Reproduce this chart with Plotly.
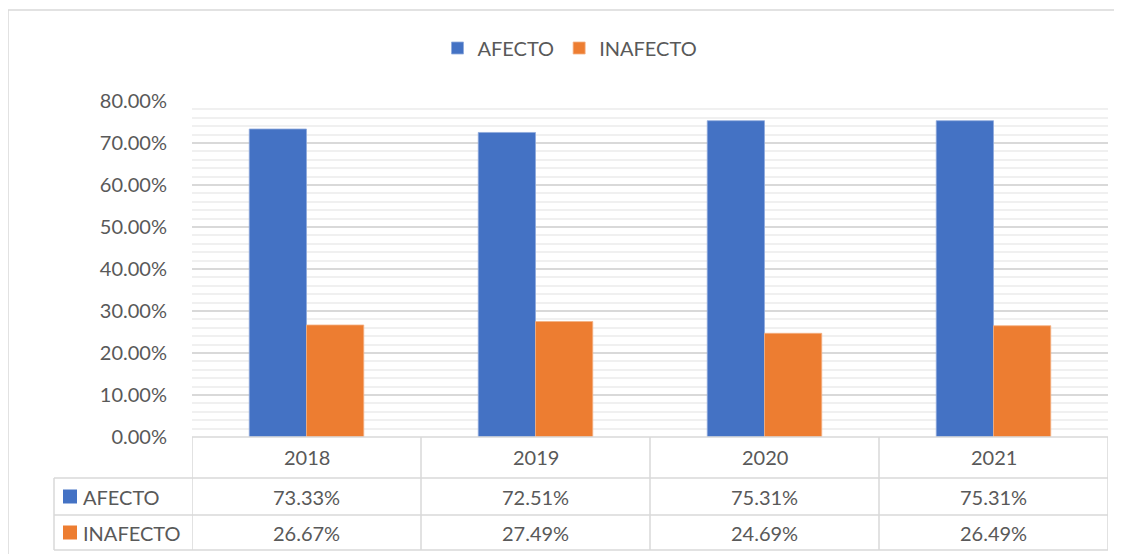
import plotly.graph_objects as go

# ---- data ----
years = ["2018", "2019", "2020", "2021"]
afecto = [0.7333, 0.7251, 0.7531, 0.7531]
inafecto = [0.2667, 0.2749, 0.2469, 0.2649]
afecto_labels = ["73.33%", "72.51%", "75.31%", "75.31%"]
inafecto_labels = ["26.67%", "27.49%", "24.69%", "26.49%"]
series_names = ["AFECTO", "INAFECTO"]

BLUE = "#4472C4"
ORANGE = "#ED7D31"
TXT = "#595959"
GRID = "#D9D9D9"
FONT = "Lato"
FS = 20

OFF = 8  # default page body margin
W, H = 1122 - OFF, 554 - OFF
L, R, T, B = 192, 1108, 101, 437  # plot area in page pixels


def px(xp):
    return (xp - L) / (R - L)


def py(yp):
    return (B - yp) / (B - T)


fig = go.Figure()
fig.add_trace(go.Bar(x=years, y=afecto, name=series_names[0],
                     marker=dict(color=BLUE, line=dict(color="#8FAADC", width=0.8))))
fig.add_trace(go.Bar(x=years, y=inafecto, name=series_names[1],
                     marker=dict(color=ORANGE, line=dict(color="#F4B183", width=0.8))))

shapes = []
annotations = []

# outer chart border
shapes.append(dict(type="rect", xref="paper", yref="paper",
                   x0=px(8), x1=px(1140), y0=py(575), y1=py(10),
                   line=dict(color="#D9D9D9", width=1.5), layer="below"))

# table geometry
row_edges = [B, 478, 515, 550]
tcol = "#D9D9D9"
left_x = px(54)
n = len(years)
shapes.append(dict(type="line", xref="x", yref="paper", x0=-0.5, x1=n - 0.5,
                   y0=py(row_edges[0]), y1=py(row_edges[0]), line=dict(color=tcol, width=1.5)))
for ye in row_edges[1:]:
    shapes.append(dict(type="line", xref="paper", yref="paper", x0=left_x, x1=1,
                       y0=py(ye), y1=py(ye), line=dict(color=tcol, width=1.5)))
for i in range(n + 1):
    shapes.append(dict(type="line", xref="x", yref="paper", x0=i - 0.5, x1=i - 0.5,
                       y0=py(row_edges[0]), y1=py(row_edges[-1]), line=dict(color=tcol, width=1.5)))
shapes.append(dict(type="line", xref="paper", yref="paper", x0=left_x, x1=left_x,
                   y0=py(row_edges[1]), y1=py(row_edges[-1]), line=dict(color=tcol, width=1.5)))


def mid(a, b):
    return py((a + b) / 2)


tf = dict(family=FONT, size=FS, color=TXT)
for i, yr in enumerate(years):
    for text, r in ((yr, 0), (afecto_labels[i], 1), (inafecto_labels[i], 2)):
        annotations.append(dict(x=i, y=mid(row_edges[r], row_edges[r + 1]), xref="x", yref="paper",
                                text=text, showarrow=False, xanchor="center", yanchor="middle",
                                font=tf))

for k, (name, col) in enumerate(zip(series_names, [BLUE, ORANGE])):
    top, bot = row_edges[k + 1], row_edges[k + 2]
    c = (top + bot) / 2
    shapes.append(dict(type="rect", xref="paper", yref="paper", x0=px(63), x1=px(77),
                       y0=py(c + 7), y1=py(c - 7), fillcolor=col, line=dict(width=0)))
    annotations.append(dict(x=px(81), y=py(c), xref="paper", yref="paper", text=name,
                            xanchor="left", yanchor="middle", showarrow=False, font=tf))

fig.update_layout(
    width=W, height=H,
    margin=dict(l=L - OFF, r=W - (R - OFF), t=T - OFF, b=H - (B - OFF), pad=0),
    paper_bgcolor="white", plot_bgcolor="white",
    barmode="group", bargap=0.5, bargroupgap=0,
    font=tf,
    legend=dict(orientation="h", x=px(570), xanchor="center", y=py(48), yanchor="middle",
                font=tf, itemwidth=30, traceorder="normal"),
    shapes=shapes, annotations=annotations,
    xaxis=dict(type="category", showticklabels=False, showgrid=False, zeroline=False,
               showline=False, range=[-0.5, n - 0.5]),
    yaxis=dict(range=[0, 0.8], dtick=0.1, tickformat=".2%", showgrid=True, gridcolor=GRID,
               gridwidth=1.5, zeroline=False, showline=False, ticks="outside", ticklen=0,
               ticklabelstandoff=20, tickfont=tf,
               minor=dict(dtick=0.02, showgrid=True, gridcolor="#F0F0F0", gridwidth=1.5)),
)

fig.write_html("out.html")
